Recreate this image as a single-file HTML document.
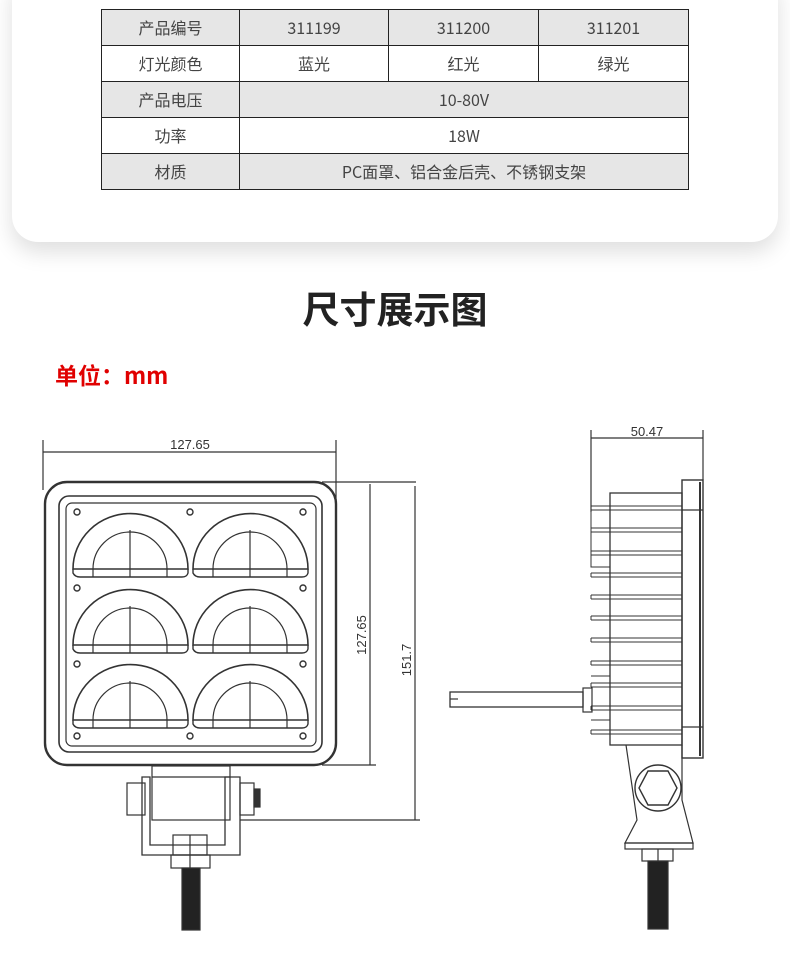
<!DOCTYPE html>
<html><head><meta charset="utf-8"><style>
html,body{margin:0;padding:0;background:#fff;}
body{width:790px;height:960px;overflow:hidden;position:relative;font-family:"Liberation Sans","Noto Sans CJK SC",sans-serif;}
.card{position:absolute;left:12px;top:-20px;width:766px;height:262px;background:#fff;border-radius:0 0 26px 26px;box-shadow:0 10px 22px rgba(0,0,0,0.13);}
table{position:absolute;left:101px;top:9px;border-collapse:collapse;width:588px;font-size:16px;color:#444;font-family:"Noto Sans CJK SC",sans-serif;}
td{border:1px solid #222;height:35px;line-height:35px;text-align:center;vertical-align:middle;padding:0;}
.g td{background:#e6e6e6;}
.t{position:absolute;left:0;width:790px;top:280px;text-align:center;font-size:37px;font-weight:bold;color:#222;font-family:"Noto Sans CJK SC",sans-serif;}
.u{position:absolute;left:55px;top:357px;font-size:23px;color:#e00000;font-weight:bold;font-family:"Noto Sans CJK SC",sans-serif;}
svg{position:absolute;left:0;top:0;}
</style></head><body>
<div class="card"></div>
<table>
<tr class="g"><td style="width:137px">产品编号</td><td style="width:148px">311199</td><td style="width:149px">311200</td><td>311201</td></tr>
<tr><td>灯光颜色</td><td>蓝光</td><td>红光</td><td>绿光</td></tr>
<tr class="g"><td>产品电压</td><td colspan="3">10-80V</td></tr>
<tr><td>功率</td><td colspan="3">18W</td></tr>
<tr class="g"><td>材质</td><td colspan="3">PC面罩、铝合金后壳、不锈钢支架</td></tr>
</table>
<div class="t">尺寸展示图</div>
<div class="u">单位：mm</div>
<svg width="790" height="960" viewBox="0 0 790 960" fill="none" stroke="#333" stroke-width="1.2" font-family="Liberation Sans, sans-serif">
<line x1="43" y1="440" x2="43" y2="490"/><line x1="336" y1="440" x2="336" y2="500"/>
<line x1="43" y1="452" x2="336" y2="452"/>
<text x="190" y="449" font-size="13" fill="#333" stroke="none" text-anchor="middle">127.65</text>
<line x1="322" y1="482" x2="416" y2="482"/><line x1="322" y1="765" x2="376" y2="765"/><line x1="240" y1="820" x2="420" y2="820"/>
<line x1="370" y1="484" x2="370" y2="765"/><line x1="415" y1="486" x2="415" y2="820"/>
<text transform="translate(366,635) rotate(-90)" font-size="13" fill="#333" stroke="none" text-anchor="middle">127.65</text>
<text transform="translate(411,660) rotate(-90)" font-size="13" fill="#333" stroke="none" text-anchor="middle">151.7</text>
<rect x="45" y="482" width="291" height="283" rx="22" stroke-width="2.4"/>
<rect x="59" y="496" width="263" height="256" rx="10" stroke-width="1.6"/>
<rect x="66" y="503" width="250" height="243" rx="6"/>
<g id="lens">
<path d="M73 569 A57 55 0 0 1 188 569 Z" stroke-width="1.6"/>
<path d="M93 569 A37 37 0 0 1 167 569"/>
<line x1="130" y1="530" x2="130" y2="577"/>
<line x1="93" y1="569" x2="93" y2="577"/><line x1="167" y1="569" x2="167" y2="577"/>
<path d="M73 569 L73 573 Q75 577 80 577 L182 577 Q187 577 188 573 L188 569" stroke-width="1.4"/>
</g>
<use href="#lens" x="120"/>
<use href="#lens" y="76"/><use href="#lens" x="120" y="76"/>
<use href="#lens" y="151"/><use href="#lens" x="120" y="151"/>
<g stroke-width="1.4">
<circle cx="77" cy="512" r="3"/><circle cx="190" cy="512" r="3"/><circle cx="303" cy="512" r="3"/>
<circle cx="77" cy="588" r="3"/><circle cx="303" cy="588" r="3"/>
<circle cx="77" cy="664" r="3"/><circle cx="303" cy="664" r="3"/>
<circle cx="77" cy="736" r="3"/><circle cx="190" cy="736" r="3"/><circle cx="303" cy="736" r="3"/>
</g>
<rect x="152" y="766" width="78" height="54"/>
<line x1="152" y1="777" x2="230" y2="777"/>
<path d="M142 777 L150 777 L150 845 L225 845 L225 777 L240 777 L240 855 L142 855 Z" stroke-width="1.3"/>
<rect x="127" y="783" width="18" height="32"/><rect x="240" y="783" width="14" height="32"/><rect x="254" y="789" width="6" height="18" fill="#333"/>
<rect x="173" y="835" width="34" height="20"/><line x1="190" y1="835" x2="190" y2="855"/>
<rect x="171" y="855" width="39" height="13"/><line x1="190" y1="855" x2="190" y2="868"/>
<rect x="182" y="868" width="18" height="62" fill="#222"/>
<line x1="591" y1="430" x2="591" y2="512"/><line x1="703" y1="430" x2="703" y2="480"/>
<line x1="591" y1="438" x2="703" y2="438"/>
<text x="647" y="436" font-size="13" fill="#333" stroke="none" text-anchor="middle">50.47</text>
<rect x="682" y="480" width="21" height="278" stroke-width="1.4"/>
<line x1="700" y1="482" x2="700" y2="756" stroke-width="2"/>
<line x1="682" y1="510" x2="703" y2="510"/><line x1="682" y1="727" x2="703" y2="727"/>
<rect x="610" y="493" width="72" height="252" stroke-width="1.3"/>
<g stroke-width="1">
<path d="M591 506 H682 M591 510 H682 M591 528 H682 M591 532 H682 M591 551 H682 M591 555 H682 M591 573 H682 M591 577 H682 M591 595 H682 M591 599 H682 M591 616 H682 M591 620 H682 M591 638 H682 M591 642 H682 M591 661 H682 M591 665 H682 M591 683 H682 M591 687 H682 M591 706 H682 M591 710 H682 M591 730 H682 M591 734 H682"/>
<path d="M591 506 V510 M591 528 V532 M591 551 V555 M591 573 V577 M591 595 V599 M591 616 V620 M591 638 V642 M591 661 V665 M591 683 V687 M591 706 V710 M591 730 V734"/>
<path d="M591 510 V567 H610 M591 676 H610 M591 720 H610"/>
</g>
<rect x="450" y="692" width="133" height="15" stroke-width="1.3"/>
<line x1="450" y1="699" x2="458" y2="699"/>
<rect x="583" y="688" width="9" height="24"/>
<path d="M626 745 L637 820 L625 843 L693 843 L682 800 L682 745"/>
<rect x="625" y="843" width="68" height="6"/>
<circle cx="658" cy="788" r="23" stroke-width="1.4"/>
<polygon points="648,771 668,771 677,788 668,805 648,805 639,788" stroke-width="1.4"/>
<rect x="642" y="849" width="31" height="12"/><line x1="658" y1="849" x2="658" y2="861"/>
<rect x="648" y="861" width="20" height="68" fill="#222"/>
</svg>
</body></html>
